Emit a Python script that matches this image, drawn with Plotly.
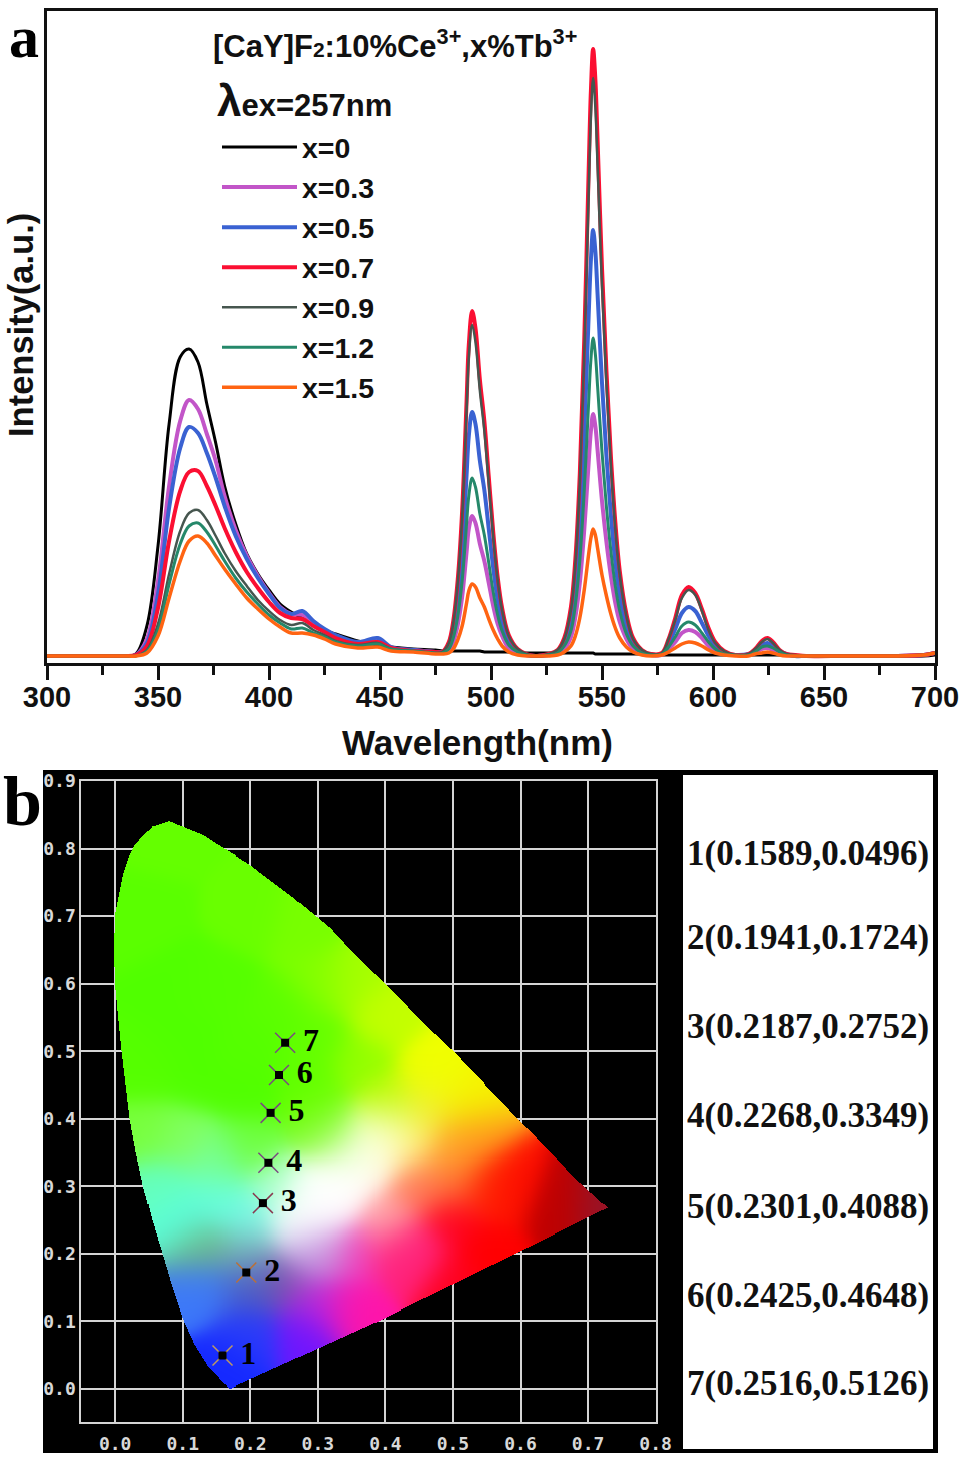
import numpy as np
import plotly.graph_objects as go

W, H = 964, 1461
def PX(v): return v / W
def PY(v): return 1 - v / H

# ---------- panel a: emission spectra ----------
wavelength = [300, 330,
    335, 340, 345, 350, 355, 360, 364, 368, 372, 376, 380, 385, 390, 395, 400, 405, 410, 415, 420, 425, 430, 440, 449, 455, 465, 475,
    478, 481, 483, 485, 487, 489, 490, 491.5, 493, 495, 497, 499, 501, 503, 505, 508, 512, 516, 520,
    526, 530, 533, 536, 538, 540, 542, 544, 545, 546, 547, 548, 550, 552, 554, 556, 558, 561, 564, 568, 572,
    577, 580, 583, 586, 589, 592, 595, 598, 601, 605, 610,
    616, 619, 622, 624.5, 627, 630, 633, 637, 642,
    660, 680, 695, 700]

x_0 = [0, 0,
    0, 2, 30, 110, 232, 299, 307, 294, 252, 213, 170, 132, 102, 82, 66, 52, 44, 38, 32, 26, 22, 15, 11, 9, 7, 6,
    5, 5, 5, 5, 5, 5, 5, 5, 5, 5, 4, 4, 4, 4, 4, 4, 3, 3, 3,
    3, 3, 3, 3, 3, 3, 3, 3, 3, 3, 2, 2, 2, 2, 2, 2, 2, 2, 2, 2, 2,
    1, 1, 1, 1, 1, 1, 1, 1, 1, 1, 1,
    1, 1, 1, 1, 1, 1, 1, 0, 0,
    0, 0, 0, 1]
x_03 = [0, 0,
    0, 1, 17, 75, 170, 235, 256, 247, 222, 195, 160, 126, 100, 80, 63, 49, 42, 41, 33, 26, 20, 13, 16, 8, 6, 4,
    4, 6, 14, 31, 59, 104, 127, 140, 133, 112, 95, 73, 50, 32, 20, 8, 3, 1, 0,
    1, 2, 7, 19, 39, 73, 126, 194, 225, 242, 230, 206, 155, 114, 80, 53, 34, 17, 7, 2, 1,
    1, 7, 14, 23, 26, 24, 18, 10, 5, 2, 1,
    1, 3, 7, 8, 6, 3, 1, 0, 0,
    0, 0, 1, 3]
x_05 = [0, 0,
    0, 1, 13, 62, 148, 208, 229, 223, 203, 178, 150, 120, 97, 78, 62, 48, 42, 45, 35, 27, 21, 14, 18, 9, 6, 4,
    4, 10, 24, 54, 102, 181, 220, 244, 232, 195, 166, 127, 88, 56, 34, 15, 5, 1, 0,
    1, 4, 13, 34, 68, 128, 222, 341, 396, 426, 405, 362, 273, 200, 141, 94, 60, 30, 13, 4, 1,
    2, 12, 27, 43, 49, 45, 33, 20, 10, 3, 1,
    2, 5, 11, 13, 10, 5, 2, 0, 0,
    0, 0, 1, 3]
x_07 = [0, 0,
    0, 1, 10, 48, 115, 165, 184, 185, 170, 150, 128, 104, 84, 68, 54, 43, 38, 37, 30, 24, 18, 12, 14, 8, 5, 4,
    4, 14, 35, 76, 145, 255, 311, 345, 328, 276, 235, 179, 124, 79, 48, 21, 7, 2, 0,
    2, 6, 18, 49, 97, 182, 316, 486, 565, 607, 577, 516, 388, 285, 200, 134, 85, 42, 18, 6, 2,
    3, 17, 38, 61, 69, 63, 47, 28, 14, 5, 1,
    2, 7, 15, 18, 14, 6, 2, 1, 0,
    0, 0, 1, 3]
x_09 = [0, 0,
    0, 0, 6, 32, 82, 125, 143, 146, 136, 120, 103, 85, 70, 56, 45, 36, 31, 33, 26, 21, 15, 11, 13, 7, 5, 3,
    4, 13, 33, 73, 139, 245, 298, 331, 314, 265, 225, 172, 119, 76, 46, 20, 7, 2, 0,
    2, 6, 17, 46, 92, 173, 301, 462, 538, 578, 549, 491, 370, 272, 191, 127, 81, 40, 17, 6, 2,
    3, 17, 36, 58, 66, 61, 45, 26, 13, 5, 1,
    2, 7, 14, 17, 13, 6, 2, 1, 0,
    0, 0, 1, 3]
x_12 = [0, 0,
    0, 0, 5, 26, 72, 112, 130, 133, 124, 110, 95, 78, 64, 52, 41, 33, 27, 28, 23, 19, 14, 10, 12, 7, 5, 3,
    3, 7, 18, 39, 75, 132, 160, 178, 169, 142, 121, 93, 64, 41, 25, 11, 4, 1, 0,
    1, 3, 10, 25, 51, 95, 165, 254, 296, 318, 302, 270, 204, 149, 105, 70, 45, 22, 10, 3, 1,
    2, 9, 19, 30, 34, 31, 23, 14, 7, 2, 1,
    1, 4, 9, 10, 8, 4, 1, 0, 0,
    0, 0, 1, 3]
x_15 = [0, 0,
    0, 0, 3, 20, 58, 95, 115, 120, 113, 100, 87, 72, 58, 47, 37, 29, 23, 23, 21, 17, 12, 8, 9, 5, 4, 2,
    2, 3, 7, 16, 30, 53, 65, 72, 69, 58, 49, 37, 26, 17, 10, 4, 1, 0, 0,
    0, 1, 4, 10, 20, 38, 66, 102, 118, 127, 121, 108, 81, 60, 42, 28, 18, 9, 4, 1, 0,
    1, 4, 8, 12, 14, 13, 10, 6, 3, 1, 0,
    0, 2, 3, 4, 3, 1, 0, 0, 0,
    0, 0, 1, 3]

series_names = ["x=0", "x=0.3", "x=0.5", "x=0.7", "x=0.9", "x=1.2", "x=1.5"]
series_values = [x_0, x_03, x_05, x_07, x_09, x_12, x_15]
series_colors = ["#000000", "#c255c8", "#3a62d2", "#fb0f32", "#46564f", "#25886a", "#ff6412"]
series_widths = [3, 4, 4, 4, 2.5, 3, 3.5]

# ---------- panel b: CIE diagram ----------
point_x = [0.1589, 0.1941, 0.2187, 0.2268, 0.2301, 0.2425, 0.2516]
point_y = [0.0496, 0.1724, 0.2752, 0.3349, 0.4088, 0.4648, 0.5126]
point_labels = ["1", "2", "3", "4", "5", "6", "7"]
point_cross_colors = ["#c09a60", "#b8703a", "#8a3a50", "#7a4a80", "#7a4a80", "#7a4a80", "#7a4a80"]

locus_x = [0.17, 0.14, 0.118, 0.10, 0.085, 0.07, 0.055, 0.042, 0.031, 0.022, 0.01, 0.0, -0.001, 0.0, 0.012, 0.02, 0.03, 0.055, 0.08,
           0.13, 0.20, 0.26, 0.32, 0.398, 0.5, 0.596, 0.683, 0.729, 0.593, 0.39]
locus_y = [0.0, 0.03, 0.065, 0.105, 0.15, 0.20, 0.25, 0.30, 0.35, 0.40, 0.50, 0.60, 0.65, 0.70, 0.76, 0.785, 0.805, 0.832, 0.84,
           0.82, 0.775, 0.73, 0.68, 0.60, 0.50, 0.40, 0.31, 0.268, 0.2, 0.1]

# colour field of the diagram: anchor position and colour
anchor_x = [0.10, 0.05, 0.08, 0.20, 0.20, 0.30, 0.40, 0.47, 0.52, 0.30, 0.40,
            0.30, 0.33, 0.27, 0.37, 0.44, 0.53, 0.50, 0.58, 0.55, 0.50, 0.66, 0.72,
            0.42, 0.35, 0.45, 0.40, 0.30, 0.28, 0.17, 0.20, 0.13, 0.20, 0.25,
            0.13, 0.20, 0.10, 0.15, 0.20, 0.07, 0.10, 0.20, 0.15, 0.05, 0.24, 0.45, 0.31, 0.30,
            0.05, 0.12, 0.20, 0.28, 0.36, 0.10, 0.30, 0.46, 0.40, 0.33, 0.50, 0.55, 0.50, 0.30, 0.35,
            0.28, 0.35, 0.25, 0.15, 0.31, 0.34, 0.29, 0.38]
anchor_y = [0.60, 0.70, 0.82, 0.50, 0.70, 0.60, 0.55, 0.47, 0.42, 0.42, 0.42,
            0.26, 0.30, 0.24, 0.34, 0.36, 0.37, 0.31, 0.30, 0.20, 0.16, 0.27, 0.268,
            0.20, 0.12, 0.20, 0.25, 0.13, 0.08, 0.03, 0.08, 0.15, 0.15, 0.16,
            0.21, 0.20, 0.25, 0.28, 0.25, 0.30, 0.37, 0.36, 0.33, 0.38, 0.30, 0.30, 0.38, 0.21,
            0.47, 0.46, 0.44, 0.46, 0.48, 0.52, 0.52, 0.41, 0.38, 0.37, 0.35, 0.30, 0.25, 0.20, 0.20,
            0.68, 0.60, 0.56, 0.60, 0.29, 0.33, 0.27, 0.36]
anchor_r = [80, 90, 100, 85, 105, 130, 195, 240, 245, 110, 190,
            255, 255, 250, 255, 255, 255, 255, 255, 255, 255, 190, 150,
            255, 255, 255, 255, 190, 110, 20, 40, 60, 70, 120,
            110, 120, 90, 100, 120, 100, 130, 110, 120, 120, 170, 255, 120, 200,
            85, 80, 80, 95, 145, 80, 100, 240, 250, 180, 255, 255, 255, 190, 240,
            120, 165, 90, 85, 255, 255, 255, 255]
anchor_g = [255, 255, 255, 255, 255, 255, 255, 255, 245, 255, 250,
            255, 255, 255, 255, 245, 150, 120, 10, 0, 0, 0, 20,
            30, 20, 40, 170, 40, 20, 40, 60, 120, 90, 80,
            180, 170, 255, 255, 250, 255, 255, 255, 255, 255, 255, 120, 250, 190,
            255, 255, 255, 255, 255, 255, 255, 240, 255, 255, 170, 40, 0, 120, 60,
            255, 255, 255, 255, 255, 255, 255, 255]
anchor_b = [0, 0, 0, 0, 0, 0, 0, 0, 0, 0, 0,
            255, 255, 255, 240, 130, 30, 60, 0, 0, 30, 0, 40,
            120, 170, 130, 170, 220, 255, 255, 250, 250, 200, 170,
            130, 180, 220, 225, 230, 190, 100, 60, 150, 60, 200, 90, 40, 230,
            0, 0, 0, 0, 0, 0, 0, 50, 190, 110, 40, 0, 30, 220, 190,
            0, 0, 0, 0, 255, 255, 255, 230]

step = 0.0015
gx = np.arange(-0.005, 0.735, step)
gy = np.arange(-0.002, 0.845, step)
XX, YY = np.meshgrid(gx, gy)

inside = np.zeros(XX.shape, dtype=bool)
n = len(locus_x)
for i in range(n):
    x1, y1 = locus_x[i], locus_y[i]
    x2, y2 = locus_x[(i + 1) % n], locus_y[(i + 1) % n]
    if y1 == y2:
        continue
    crosses = ((y1 > YY) != (y2 > YY)) & (XX < (x2 - x1) * (YY - y1) / (y2 - y1) + x1)
    inside ^= crosses

sigma = 0.03
w_sum = np.zeros(XX.shape)
rgb_sum = np.zeros(XX.shape + (3,))
for ax_, ay_, r_, g_, b_ in zip(anchor_x, anchor_y, anchor_r, anchor_g, anchor_b):
    w = np.exp(-((XX - ax_) ** 2 + (YY - ay_) ** 2) / (2 * sigma ** 2)) + 1e-12
    w_sum += w
    rgb_sum[..., 0] += w * r_
    rgb_sum[..., 1] += w * g_
    rgb_sum[..., 2] += w * b_
rgb = np.clip(rgb_sum / w_sum[..., None], 0, 255)
rgba = np.dstack([rgb, inside * 255.0]).round().astype(int)

fig = go.Figure()

for name, vals, col, wid in zip(series_names, series_values, series_colors, series_widths):
    fig.add_trace(go.Scatter(x=wavelength, y=vals, mode="lines", name=name, legendgroup=name,
                             line=dict(color=col, width=wid, shape="spline", smoothing=1.0),
                             xaxis="x", yaxis="y"))

fig.add_trace(go.Image(z=rgba.tolist(), colormodel="rgba", x0=float(gx[0]), y0=float(gy[0]),
                       dx=step, dy=step, xaxis="x2", yaxis="y2", hoverinfo="skip"))
fig.add_trace(go.Scatter(x=point_x, y=point_y, mode="markers", showlegend=False, xaxis="x2", yaxis="y2",
                         marker=dict(symbol="x-thin", size=20, line=dict(width=1.5, color=point_cross_colors))))
fig.add_trace(go.Scatter(x=point_x, y=point_y, mode="markers+text", showlegend=False, xaxis="x2", yaxis="y2",
                         marker=dict(symbol="square", size=27, color="rgba(0,0,0,0)"),
                         text=[f"<b>{t}</b>" for t in point_labels], textposition="middle right",
                         textfont=dict(family="Liberation Serif", size=32, color="#000000")))
fig.add_trace(go.Scatter(x=point_x, y=point_y, mode="markers", showlegend=False, xaxis="x2", yaxis="y2",
                         marker=dict(symbol="square", size=8, color="#000000")))

shapes = [
    dict(type="rect", xref="paper", yref="paper", x0=PX(43), x1=PX(938), y0=PY(770), y1=PY(1453),
         fillcolor="#000000", line_width=0, layer="below"),
    dict(type="rect", xref="paper", yref="paper", x0=PX(683), x1=PX(933), y0=PY(775), y1=PY(1449),
         fillcolor="#ffffff", line_width=0, layer="below"),
]

def note(text, x, y, size, family="Liberation Sans", xanchor="left", angle=0, color="#111111"):
    return dict(text=text, x=PX(x), y=PY(y), xref="paper", yref="paper", showarrow=False, xanchor=xanchor,
                yanchor="middle", textangle=angle, font=dict(family=family, size=size, color=color))

coord_rows = [f"{l}({a:.4f},{b:.4f})" for l, a, b in zip(point_labels, point_x, point_y)]
coord_y = [853, 937, 1026, 1115, 1206, 1295, 1383]
annotations = [
    note("<b>[CaY]F<span style='font-size:21px'>2</span>:10%Ce<sup>3+</sup>,x%Tb<sup>3+</sup></b>", 211, 44, 31),
    note("<b><span style='font-size:44px'>λ</span>ex=257nm</b>", 215, 100, 31),
    note("<b>a</b>", 24, 37, 60, family="Liberation Serif", xanchor="center", color="#000000"),
    note("<b>b</b>", 22, 801, 70, family="Liberation Serif", xanchor="center", color="#000000"),
    note("<b>Intensity(a.u.)</b>", 21, 325, 34.5, xanchor="center", angle=-90),
    note("<b>Wavelength(nm)</b>", 477, 742, 35, xanchor="center"),
]
for row, yy in zip(coord_rows, coord_y):
    annotations.append(note(f"<b>{row}</b>", 685, yy, 35, family="Liberation Serif", color="#111111"))

grid_color = "#d4d4d4"
mono = dict(family="DejaVu Sans Mono", size=18, color="#d8d8d8", weight="bold")

fig.update_layout(
    template=None,
    width=W, height=H, margin=dict(l=0, r=0, t=0, b=0, autoexpand=False),
    paper_bgcolor="#ffffff", plot_bgcolor="rgba(0,0,0,0)",
    shapes=shapes, annotations=annotations,
    legend=dict(x=PX(217), y=PY(122), xanchor="left", yanchor="top", bgcolor="rgba(0,0,0,0)",
                itemwidth=75, tracegroupgap=0, itemclick=False, itemdoubleclick=False,
                font=dict(family="Liberation Sans", size=28.5, color="#111111", weight="bold")),
    xaxis=dict(domain=[PX(47), PX(935)], range=[300, 700], tickvals=list(range(300, 701, 50)), automargin=False,
               ticks="outside", ticklen=14, tickwidth=2.5, tickcolor="#111111", ticklabelstandoff=-8,
               minor=dict(tickvals=list(range(325, 700, 50)), ticks="outside", ticklen=9, tickwidth=2.5, tickcolor="#111111"),
               showline=True, linewidth=3, linecolor="#111111", mirror=True, showgrid=False, zeroline=False,
               tickfont=dict(family="Liberation Sans", size=29, color="#111111", weight="bold")),
    yaxis=dict(domain=[PY(663), PY(11)], range=[-7, 645], showticklabels=False, ticks="", showgrid=False, automargin=False,
               zeroline=False, showline=True, linewidth=3, linecolor="#111111", mirror=True),
    xaxis2=dict(domain=[PX(81), PX(656)], range=[-0.05, 0.8], anchor="y2", automargin=False,
                tickvals=[i / 10 for i in range(9)], ticktext=[f"{i / 10:.1f}" for i in range(9)],
                ticks="outside", ticklen=4, tickcolor="#000000", tickfont=mono,
                showgrid=True, gridcolor=grid_color, gridwidth=2, zeroline=False,
                showline=True, linecolor=grid_color, linewidth=2, mirror=True),
    yaxis2=dict(domain=[PY(1422), PY(781)], range=[-0.0488, 0.9], anchor="x2", automargin=False,
                tickvals=[i / 10 for i in range(10)], ticktext=[f"{i / 10:.1f}" for i in range(10)],
                ticks="", tickfont=mono, showgrid=True, gridcolor=grid_color, gridwidth=2, zeroline=False,
                showline=True, linecolor=grid_color, linewidth=2, mirror=True),
)

# the page's default body margin would push the fixed-size figure out of the window
fig.write_html("out.html", config=dict(displayModeBar=False), post_script="document.body.style.margin='0';")
